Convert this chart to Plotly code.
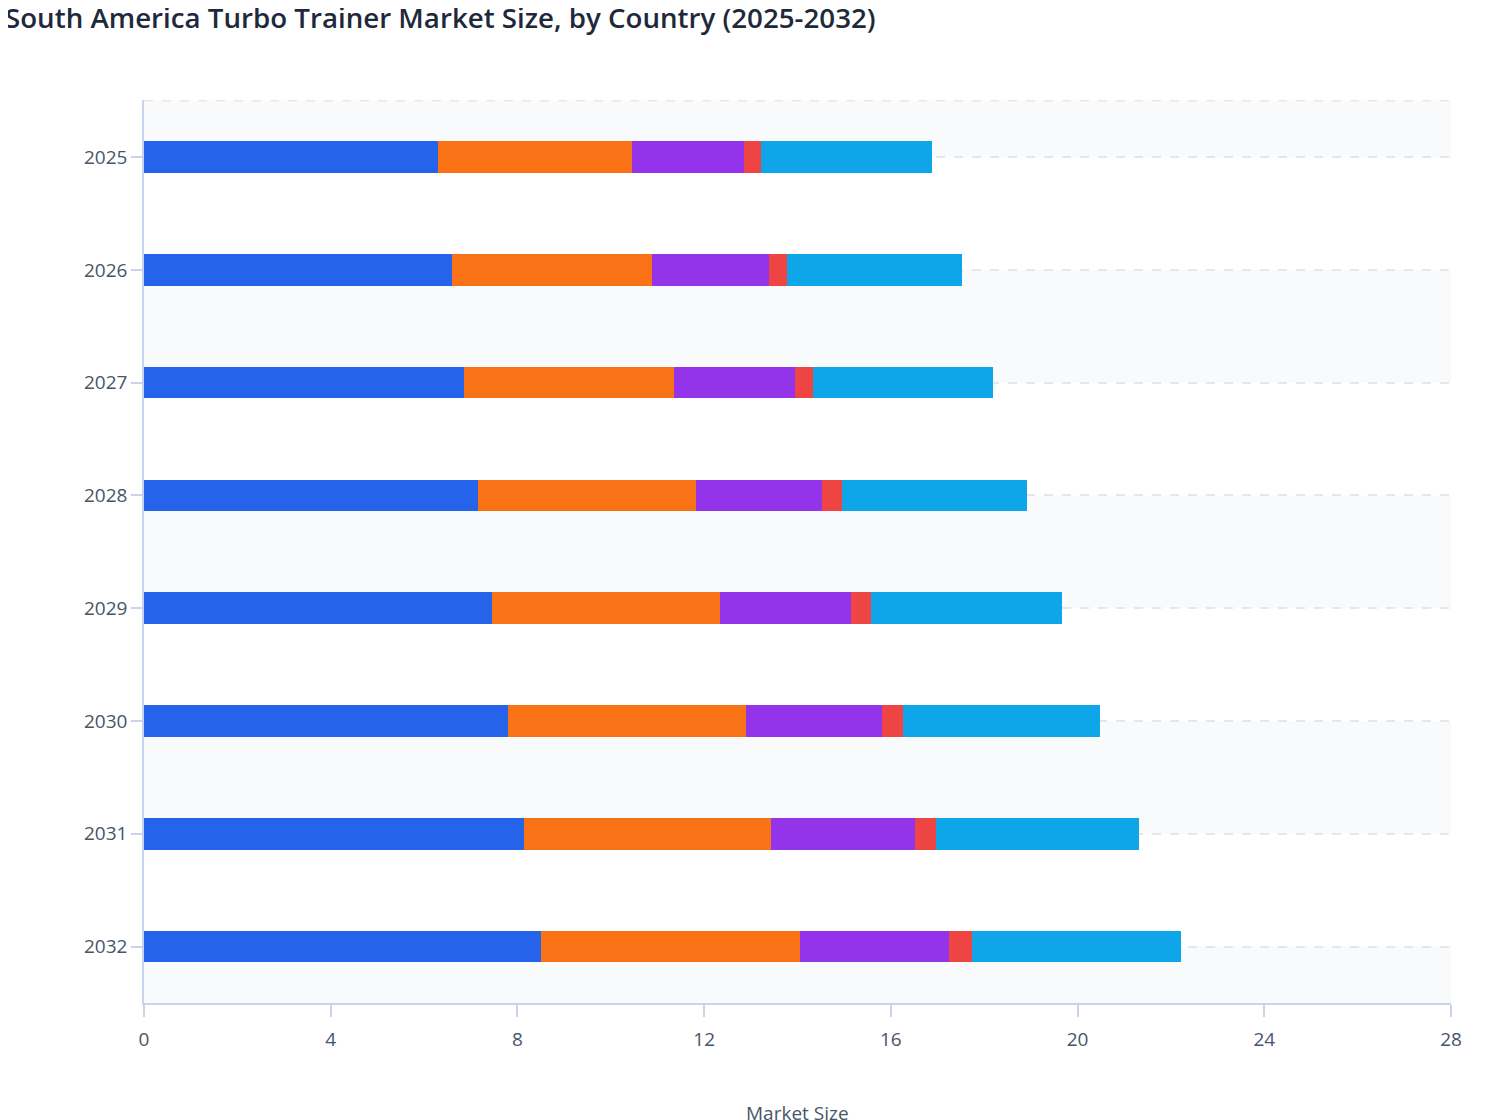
import plotly.graph_objects as go

# market size by country, stacked per year
years = ["2025", "2026", "2027", "2028", "2029", "2030", "2031", "2032"]
countries = ["Brazil", "Argentina", "Colombia", "Chile", "Rest of South America"]

brazil = [6.30, 6.59, 6.86, 7.16, 7.45, 7.80, 8.14, 8.50]
argentina = [4.15, 4.30, 4.49, 4.67, 4.89, 5.09, 5.29, 5.55]
colombia = [2.40, 2.50, 2.59, 2.70, 2.81, 2.93, 3.09, 3.19]
chile = [0.37, 0.375, 0.39, 0.43, 0.42, 0.45, 0.45, 0.50]
rest = [3.66, 3.76, 3.86, 3.96, 4.09, 4.20, 4.35, 4.47]

x_ticks = [0, 4, 8, 12, 16, 20, 24, 28]

series = [brazil, argentina, colombia, chile, rest]
colors = ["#2563eb", "#f97316", "#9333ea", "#ef4444", "#0ea5e9"]

fig = go.Figure()
for name, vals, col in zip(countries, series, colors):
    fig.add_trace(go.Bar(
        y=years, x=vals, name=name, orientation="h",
        marker=dict(color=col, line=dict(width=0)),
    ))

# alternating background bands between category centres
bands = [(-0.5, 0), (1, 2), (3, 4), (5, 6), (7, 7.5)]
for y0, y1 in bands:
    fig.add_shape(type="rect", xref="paper", yref="y", x0=0, x1=1, y0=y0, y1=y1,
                  fillcolor="#f8fafc", line_width=0, layer="below")
fig.add_shape(type="line", xref="paper", yref="y", x0=0, x1=1, y0=-0.5, y1=-0.5,
              line=dict(color="#e5e7eb", width=1.5, dash="dash"), layer="below")

plot_w, plot_h = 1307, 903

# title sits flush with the left page edge
fig.add_annotation(text="South America Turbo Trainer Market Size, by Country (2025-2032)",
                   xref="paper", yref="paper", x=-141 / plot_w, y=1 + 83 / plot_h,
                   xanchor="left", yanchor="middle", showarrow=False,
                   font=dict(size=27.7, color="#1e293b", weight=600))

# x axis title, low on the page (partly cut by the bottom edge)
fig.add_annotation(text="Market Size", xref="paper", yref="paper",
                   x=0.5, y=-110 / plot_h, xanchor="center", yanchor="middle",
                   showarrow=False, font=dict(size=19, color="#475569"))

axis_col = "#c9d3ef"
fig.update_layout(
    width=1508, height=1120,
    barmode="stack", bargap=0.72,
    showlegend=False,
    plot_bgcolor="white", paper_bgcolor="white",
    font=dict(family="Open Sans", color="#475569", size=19),
    margin=dict(l=136, r=65, t=92, b=125, autoexpand=False),
    xaxis=dict(range=[0, 28], tickvals=x_ticks, showgrid=False, zeroline=False,
               automargin=False,
               showline=True, linecolor=axis_col, linewidth=1.5,
               ticks="outside", ticklen=12, tickcolor=axis_col, tickwidth=1.5,
               ticklabelstandoff=6,
               tickfont=dict(size=19, color="#475569")),
    yaxis=dict(autorange="reversed", showgrid=True, griddash="dash",
               automargin=False,
               gridcolor="#e5e7eb", gridwidth=1.5,
               showline=True, linecolor=axis_col, linewidth=1.5,
               ticks="outside", ticklen=11, tickcolor=axis_col, tickwidth=1.5,
               tickfont=dict(size=19, color="#475569")),
)

fig.write_html("out.html")
